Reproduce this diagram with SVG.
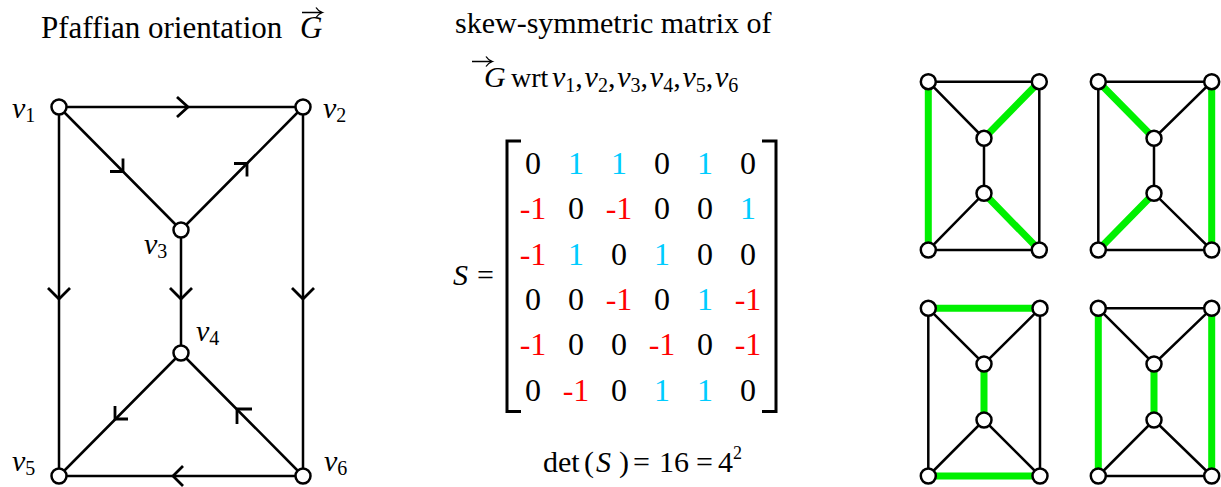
<svg xmlns="http://www.w3.org/2000/svg" width="1221" height="487" viewBox="0 0 1221 487">
<style>
.t{font-family:"Liberation Serif","Times New Roman",serif;font-size:30px;fill:#000}
.i{font-style:italic}
.sub{font-size:20px}
.m{font-size:32px}
.e{stroke:#000;stroke-width:2.5;fill:none;stroke-linecap:round}
.ch{stroke:#000;stroke-width:2.8;fill:none;stroke-linecap:butt;stroke-linejoin:miter}
.g{stroke:#00F000;stroke-width:7;fill:none}
.n{fill:#fff;stroke:#000;stroke-width:2.5}
.k{fill:#000}
.r{fill:#FF0000}
.b{fill:#00CCFF}
.vec{stroke:#000;stroke-width:1.3;fill:none}
</style>
<rect width="1221" height="487" fill="#fff"/>

<!-- Titles -->
<g id="title-left">
<text class="t" x="41" y="38" style="font-size:31px">Pfaffian orientation</text>
<text class="t i" x="300" y="38" style="font-size:31px">G</text>
<path class="vec" d="M302,12.5 H322 M316,7.5 Q318,11 322.5,12.5 Q318,14 316,17.5"/>
</g>
<g id="title-right">
<text class="t" x="455" y="33">skew-symmetric matrix of</text>
<text class="t" y="87"><tspan class="i" x="484">G</tspan><tspan x="511" style="font-size:28px">wrt</tspan><tspan class="i" x="552">v</tspan><tspan class="sub" dy="5">1</tspan><tspan dy="-5">,</tspan><tspan class="i" x="584.6">v</tspan><tspan class="sub" dy="5">2</tspan><tspan dy="-5">,</tspan><tspan class="i" x="617.2">v</tspan><tspan class="sub" dy="5">3</tspan><tspan dy="-5">,</tspan><tspan class="i" x="649.8">v</tspan><tspan class="sub" dy="5">4</tspan><tspan dy="-5">,</tspan><tspan class="i" x="682.4">v</tspan><tspan class="sub" dy="5">5</tspan><tspan dy="-5">,</tspan><tspan class="i" x="715">v</tspan><tspan class="sub" dy="5">6</tspan></text>
<path class="vec" d="M472,61.5 H492 M486,56.5 Q488,60 492.5,61.5 Q488,63 486,66.5"/>
</g>

<!-- Left graph connectors -->
<g id="connectors">
<line class="e" x1="59" y1="107" x2="303" y2="107"/>
<line class="e" x1="59" y1="107" x2="181" y2="230"/>
<line class="e" x1="181" y1="230" x2="303" y2="107"/>
<line class="e" x1="59" y1="107" x2="59" y2="476"/>
<line class="e" x1="181" y1="230" x2="181" y2="353"/>
<line class="e" x1="303" y1="107" x2="303" y2="476"/>
<line class="e" x1="181" y1="353" x2="59" y2="476"/>
<line class="e" x1="181" y1="353" x2="303" y2="476"/>
<line class="e" x1="59" y1="476" x2="303" y2="476"/>
<path class="ch" d="M177,97 L188,107 L177,117"/>
<path class="ch" d="M110,171.5 H123 V158.5"/>
<path class="ch" d="M234,163.5 H247 V176.5"/>
<path class="ch" d="M48,288 L59,299 L70,288"/>
<path class="ch" d="M170,288 L181,299 L192,288"/>
<path class="ch" d="M292,288 L303,299 L314,288"/>
<path class="ch" d="M128,419 H115 V406"/>
<path class="ch" d="M252,409 H237 V424"/>
<path class="ch" d="M183,466 L173,476 L183,486"/>
</g>

<!-- Left graph nodes -->
<g id="v1"><circle class="n" cx="59" cy="107" r="7.5"/><text class="t" y="118"><tspan class="i" x="12">v</tspan><tspan class="sub" dy="4">1</tspan></text></g>
<g id="v2"><circle class="n" cx="303" cy="107" r="7.5"/><text class="t" y="118"><tspan class="i" x="323">v</tspan><tspan class="sub" dy="4">2</tspan></text></g>
<g id="v3"><circle class="n" cx="181" cy="230" r="7.5"/><text class="t" y="254"><tspan class="i" x="144">v</tspan><tspan class="sub" dy="4">3</tspan></text></g>
<g id="v4"><circle class="n" cx="181" cy="353" r="7.5"/><text class="t" y="341"><tspan class="i" x="196">v</tspan><tspan class="sub" dy="4">4</tspan></text></g>
<g id="v5"><circle class="n" cx="59" cy="476" r="7.5"/><text class="t" y="471"><tspan class="i" x="12">v</tspan><tspan class="sub" dy="4">5</tspan></text></g>
<g id="v6"><circle class="n" cx="303" cy="476" r="7.5"/><text class="t" y="471"><tspan class="i" x="324">v</tspan><tspan class="sub" dy="4">6</tspan></text></g>

<!-- Matrix -->
<g id="matrix">
<text class="t i" x="453" y="285">S</text>
<text class="t" x="477" y="285">=</text>
<path d="M521,141 H507 V411.5 H521" fill="none" stroke="#000" stroke-width="3"/>
<path d="M762,141 H776 V411.5 H762" fill="none" stroke="#000" stroke-width="3"/>
<g class="t m" text-anchor="middle">
<text x="533" y="174" class="k">0</text><text x="576" y="174" class="b">1</text><text x="619" y="174" class="b">1</text><text x="662" y="174" class="k">0</text><text x="705" y="174" class="b">1</text><text x="748" y="174" class="k">0</text>
<text x="533" y="219.3" class="r">-1</text><text x="576" y="219.3" class="k">0</text><text x="619" y="219.3" class="r">-1</text><text x="662" y="219.3" class="k">0</text><text x="705" y="219.3" class="k">0</text><text x="748" y="219.3" class="b">1</text>
<text x="533" y="264.6" class="r">-1</text><text x="576" y="264.6" class="b">1</text><text x="619" y="264.6" class="k">0</text><text x="662" y="264.6" class="b">1</text><text x="705" y="264.6" class="k">0</text><text x="748" y="264.6" class="k">0</text>
<text x="533" y="310" class="k">0</text><text x="576" y="310" class="k">0</text><text x="619" y="310" class="r">-1</text><text x="662" y="310" class="k">0</text><text x="705" y="310" class="b">1</text><text x="748" y="310" class="r">-1</text>
<text x="533" y="355.3" class="r">-1</text><text x="576" y="355.3" class="k">0</text><text x="619" y="355.3" class="k">0</text><text x="662" y="355.3" class="r">-1</text><text x="705" y="355.3" class="k">0</text><text x="748" y="355.3" class="r">-1</text>
<text x="533" y="400.6" class="k">0</text><text x="576" y="400.6" class="r">-1</text><text x="619" y="400.6" class="k">0</text><text x="662" y="400.6" class="b">1</text><text x="705" y="400.6" class="b">1</text><text x="748" y="400.6" class="k">0</text>
</g>
<text class="t" y="472"><tspan x="543">det</tspan><tspan x="584">(</tspan><tspan class="i" x="596">S</tspan><tspan x="619">)</tspan><tspan x="633">=</tspan><tspan x="659">16</tspan><tspan x="696">=</tspan><tspan x="718">4</tspan><tspan x="733" dy="-13" style="font-size:18px">2</tspan></text>
</g>

<!-- Perfect matchings -->
<g id="pm1">
<path class="e" d="M928.3,81.7 H1039.3 M928.3,81.7 L984,138.3 V193.3 L928.3,250 H1039.3 V81.7"/>
<path class="g" d="M928.3,81.7 V250 M1039.3,81.7 L984,138.3 M984,193.3 L1039.3,250"/>
<circle class="n" cx="928.3" cy="81.7" r="7.5"/><circle class="n" cx="1039.3" cy="81.7" r="7.5"/><circle class="n" cx="984" cy="138.3" r="7.5"/><circle class="n" cx="984" cy="193.3" r="7.5"/><circle class="n" cx="928.3" cy="250" r="7.5"/><circle class="n" cx="1039.3" cy="250" r="7.5"/>
</g>
<g id="pm2">
<path class="e" d="M1098.3,81.7 H1211.7 L1154,138.3 V193.3 L1211.7,250 H1098.3 V81.7"/>
<path class="g" d="M1098.3,81.7 L1154,138.3 M1211.7,81.7 V250 M1154,193.3 L1098.3,250"/>
<circle class="n" cx="1098.3" cy="81.7" r="7.5"/><circle class="n" cx="1211.7" cy="81.7" r="7.5"/><circle class="n" cx="1154" cy="138.3" r="7.5"/><circle class="n" cx="1154" cy="193.3" r="7.5"/><circle class="n" cx="1098.3" cy="250" r="7.5"/><circle class="n" cx="1211.7" cy="250" r="7.5"/>
</g>
<g id="pm3">
<path class="e" d="M928.3,308.3 V476 M1040,308.3 V476 M928.3,308.3 L984,364 L1040,308.3 M928.3,476 L984,420 L1040,476"/>
<path class="g" d="M928.3,308.3 H1040 M984,364 V420 M928.3,476 H1040"/>
<circle class="n" cx="928.3" cy="308.3" r="7.5"/><circle class="n" cx="1040" cy="308.3" r="7.5"/><circle class="n" cx="984" cy="364" r="7.5"/><circle class="n" cx="984" cy="420" r="7.5"/><circle class="n" cx="928.3" cy="476" r="7.5"/><circle class="n" cx="1040" cy="476" r="7.5"/>
</g>
<g id="pm4">
<path class="e" d="M1098.3,308.3 H1211.7 M1098.3,476 H1211.7 M1098.3,308.3 L1154,364 L1211.7,308.3 M1098.3,476 L1154,420 L1211.7,476"/>
<path class="g" d="M1098.3,308.3 V476 M1154,364 V420 M1211.7,308.3 V476"/>
<circle class="n" cx="1098.3" cy="308.3" r="7.5"/><circle class="n" cx="1211.7" cy="308.3" r="7.5"/><circle class="n" cx="1154" cy="364" r="7.5"/><circle class="n" cx="1154" cy="420" r="7.5"/><circle class="n" cx="1098.3" cy="476" r="7.5"/><circle class="n" cx="1211.7" cy="476" r="7.5"/>
</g>
</svg>
